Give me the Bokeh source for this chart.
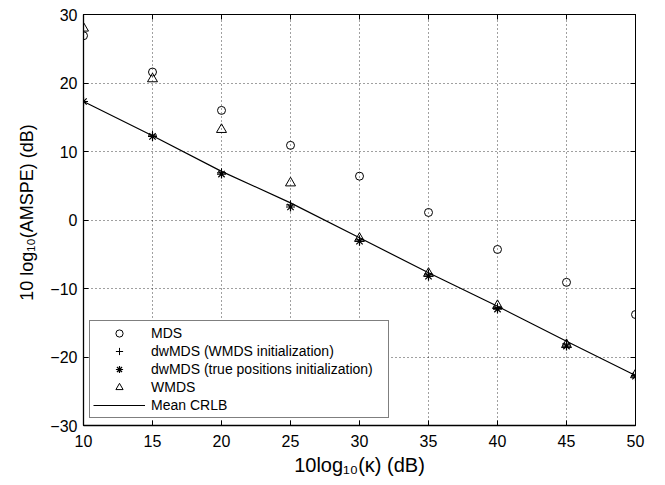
from bokeh.plotting import figure
from bokeh.models import Range1d, LinearAxis, FixedTicker, Legend, LegendItem
from bokeh.embed import file_html
from bokeh.resources import INLINE

# ---- data ----
kappa_db = [10, 15, 20, 25, 30, 35, 40, 45, 50]
mds = [26.9, 21.6, 16.0, 10.9, 6.4, 1.1, -4.3, -9.1, -13.8]
dwmds_wmds_init = [17.3, 12.4, 6.9, 2.2, -2.9, -7.9, -12.8, -18.1, -22.7]
dwmds_true_init = [17.3, 12.2, 6.7, 1.9, -3.1, -8.2, -13.0, -18.4, -22.8]
wmds = [28.0, 20.6, 13.2, 5.4, -2.7, -7.8, -12.5, -18.2, -22.6]
mean_crlb = [17.3, 12.3, 7.1, 2.5, -2.6, -7.7, -12.6, -17.7, -22.7]

x_ticks = [10, 15, 20, 25, 30, 35, 40, 45, 50]
y_ticks = [-30, -20, -10, 0, 10, 20, 30]

x_title = "10log\u2081\u2080(\u03ba) (dB)"
# leading no-break spaces nudge the title up a little, as in the original
y_title = "\u00a0" * 3 + "10 log\u2081\u2080(AMSPE) (dB)"

FONT = "Liberation Sans"

p = figure(frame_width=552, frame_height=411,
           min_border_left=83, min_border_right=26,
           min_border_top=14, min_border_bottom=56,
           x_range=Range1d(10, 50), y_range=Range1d(-30, 30),
           output_backend="svg", toolbar_location=None,
           background_fill_color="white", border_fill_color="white")

p.outline_line_color = "black"
p.outline_line_width = 1

for ax in [p.xaxis[0], p.yaxis[0]]:
    ax.major_label_text_font = FONT
    ax.major_label_text_font_size = "16px"
    ax.major_label_text_color = "black"
    ax.axis_label_text_font = FONT
    ax.axis_label_text_font_style = "normal"
    ax.axis_label_text_color = "black"
    ax.major_tick_in = 5
    ax.major_tick_out = 0
    ax.minor_tick_line_color = None
    ax.axis_line_color = "black"
    ax.axis_line_width = 1.3
    ax.major_tick_line_color = "black"

p.xaxis[0].ticker = FixedTicker(ticks=x_ticks)
p.yaxis[0].ticker = FixedTicker(ticks=y_ticks)
p.xaxis[0].axis_label = x_title
p.yaxis[0].axis_label = y_title
p.xaxis[0].axis_label_text_font_size = "20px"
p.yaxis[0].axis_label_text_font_size = "18px"
p.xaxis[0].major_label_standoff = 9
p.yaxis[0].major_label_standoff = 6
p.xaxis[0].axis_label_standoff = 4
p.yaxis[0].axis_label_standoff = 10

# mirror ticks on top and right (no labels)
for loc, tk in [("above", x_ticks), ("right", y_ticks)]:
    a = LinearAxis(ticker=FixedTicker(ticks=tk))
    a.major_label_text_font_size = "0px"
    a.major_label_text_color = None
    a.major_label_standoff = 0
    a.major_tick_in = 5
    a.major_tick_out = 0
    a.minor_tick_line_color = None
    a.axis_line_color = "black"
    a.major_tick_line_color = "black"
    p.add_layout(a, loc)

p.xgrid.ticker = FixedTicker(ticks=x_ticks)
p.ygrid.ticker = FixedTicker(ticks=y_ticks)
for g in [p.xgrid[0], p.ygrid[0]]:
    g.grid_line_color = "black"
    g.grid_line_alpha = 0.75
    g.grid_line_dash = "1 3"
    g.grid_line_width = 1

r_line = p.line(kappa_db, mean_crlb, line_color="black", line_width=1.2)
r_mds = p.scatter(kappa_db, mds, marker="circle", size=8, fill_color=None,
                  line_color="black", line_width=1)
r_plus = p.scatter(kappa_db, dwmds_wmds_init, marker="cross", size=9,
                   line_color="black", line_width=1)
r_ast = p.scatter(kappa_db, dwmds_true_init, marker="asterisk", size=9,
                  line_color="black", line_width=1.2)
r_wmds = p.scatter(kappa_db, wmds, marker="triangle", size=10, fill_color=None,
                   line_color="black", line_width=1)

legend = Legend(items=[
    LegendItem(label="MDS", renderers=[r_mds]),
    LegendItem(label="dwMDS (WMDS initialization)", renderers=[r_plus]),
    LegendItem(label="dwMDS (true positions initialization)", renderers=[r_ast]),
    LegendItem(label="WMDS", renderers=[r_wmds]),
    LegendItem(label="Mean CRLB", renderers=[r_line]),
], location=(6, 7))
legend.label_text_font = FONT
legend.label_text_font_size = "14px"
legend.label_text_color = "black"
legend.border_line_color = "black"
legend.border_line_width = 1
legend.background_fill_color = "white"
legend.background_fill_alpha = 1
legend.padding = 3
legend.margin = 0
legend.spacing = 0
legend.label_height = 18
legend.glyph_height = 18
legend.glyph_width = 52
legend.label_standoff = 6
legend.label_width = 234
p.add_layout(legend, "center")

open("out.html", "w").write(file_html(p, INLINE))
